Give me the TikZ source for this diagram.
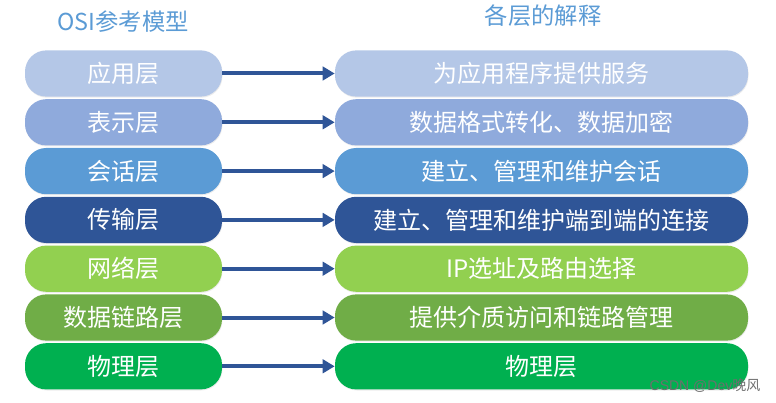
\documentclass[tikz,border=0pt]{standalone}
\usepackage{fontspec}
\newfontfamily\cjk{Noto Sans CJK SC}
\newfontfamily\marksans{Liberation Sans}
\usetikzlibrary{positioning,arrows.meta,shadows}

\definecolor{appblue}{HTML}{B4C7E7}
\definecolor{presblue}{HTML}{8FAADC}
\definecolor{sessblue}{HTML}{5B9BD5}
\definecolor{transblue}{HTML}{2F5597}
\definecolor{netgreen}{HTML}{92D050}
\definecolor{linkgreen}{HTML}{70AD47}
\definecolor{physgreen}{HTML}{00B050}
\definecolor{titleblue}{HTML}{5B9BD5}
\definecolor{arrowblue}{HTML}{2F5597}
\definecolor{markgray}{HTML}{6E6E6E}

\tikzset{
    layer/.style={rounded corners=16pt, minimum height=34.7pt, inner sep=0pt,
        text=white, font=\cjk\fontsize{18}{21}\selectfont,
        drop shadow={opacity=0.15, shadow xshift=0.4pt, shadow yshift=-0.8pt}},
    osi/.style={layer, minimum width=147.75pt},
    expl/.style={layer, minimum width=309.75pt},
    link/.style={-{Triangle[length=9pt,width=10pt]}, line width=3pt, arrowblue},
    heading/.style={text=titleblue, font=\cjk\fontsize{17.5}{20}\selectfont}
}

\begin{document}
\begin{tikzpicture}[x=0.75pt, y=-0.75pt, node distance=1.5pt]
    \useasboundingbox (0,0) rectangle (776,403);
    \node[heading] (osititle) at (123,22) {OSI参考模型};
    \node[heading] (expltitle) at (543,16) {各层的解释};

    % left column
    \node[osi, fill=appblue] (app) at (123.5,73.5) {应用层};
    \node[osi, fill=presblue, below=of app] (pres) {表示层};
    \node[osi, fill=sessblue, below=of pres] (sess) {会话层};
    \node[osi, fill=transblue, below=of sess] (trans) {传输层};
    \node[osi, fill=netgreen, below=of trans] (net) {网络层};
    \node[osi, fill=linkgreen, below=of net] (dlink) {数据链路层};
    \node[osi, fill=physgreen, below=of dlink] (phys) {物理层};

    % right column
    \node[expl, fill=appblue] (appx) at (541.5,73.5) {为应用程序提供服务};
    \node[expl, fill=presblue, below=of appx] (presx) {数据格式转化、数据加密};
    \node[expl, fill=sessblue, below=of presx] (sessx) {建立、管理和维护会话};
    \node[expl, fill=transblue, below=of sessx] (transx) {建立、管理和维护端到端的连接};
    \node[expl, fill=netgreen, below=of transx] (netx) {IP选址及路由选择};
    \node[expl, fill=linkgreen, below=of netx] (dlinkx) {提供介质访问和链路管理};
    \node[expl, fill=physgreen, below=of dlinkx] (physx) {物理层};

    \draw[link] (app) -- (appx);
    \draw[link] (pres) -- (presx);
    \draw[link] (sess) -- (sessx);
    \draw[link] (trans) -- (transx);
    \draw[link] (net) -- (netx);
    \draw[link] (dlink) -- (dlinkx);
    \draw[link] (phys) -- (physx);

    \node[text=markgray, font=\marksans\fontsize{10.5}{12}\selectfont] (mark) at (705,386) {CSDN @Dev{\cjk 晚风}};
\end{tikzpicture}
\end{document}
